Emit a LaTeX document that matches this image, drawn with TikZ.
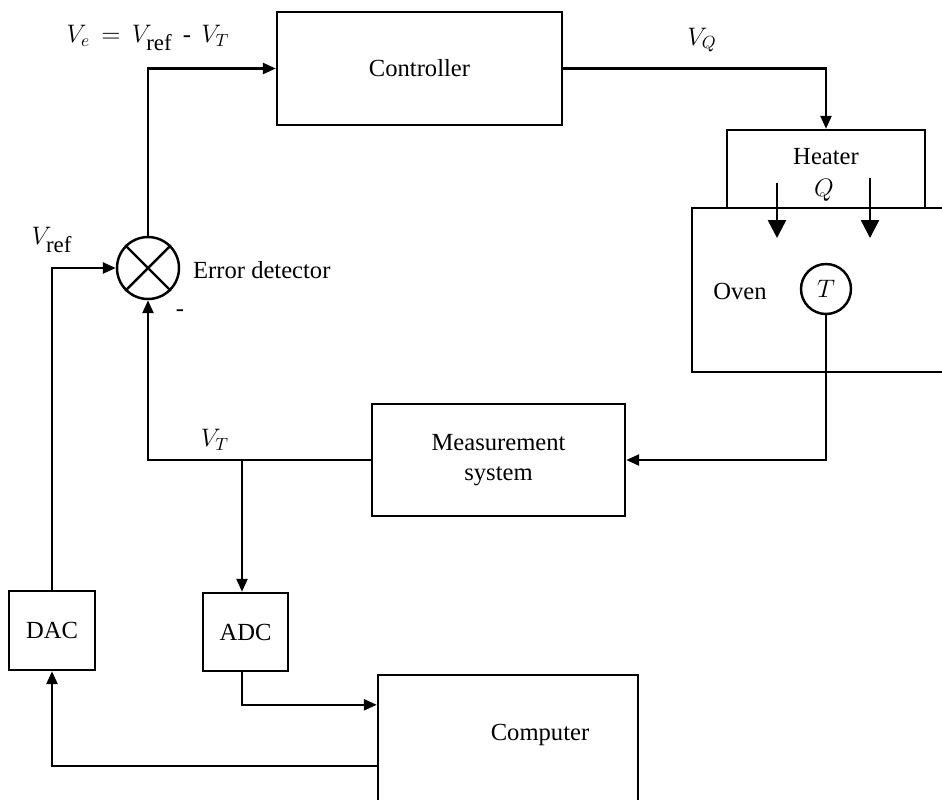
\documentclass[tikz,border=0pt]{standalone}
\usepackage{fontspec}
\setmainfont{Liberation Serif}
\usetikzlibrary{arrows.meta,positioning,calc}
\tikzset{blk/.style={draw,line width=1.4pt,inner sep=0pt},
 sig/.style={-{Triangle[length=2.6mm,width=2.2mm]},line width=1.4pt},
 heat/.style={-{Triangle[length=3.6mm,width=3.6mm]},line width=1.4pt},
 wire/.style={line width=1.4pt},
 txt/.style={align=center,font=\fontsize{14}{17}\selectfont}}
\newcommand{\subref}{\mbox{\fontsize{13}{13}\selectfont ref}}

\begin{document}
\begin{tikzpicture}[x=0.02cm,y=-0.02cm,every node/.style={font=\fontsize{14}{17}\selectfont}]
\clip (0,0) rectangle (942,799);
% blocks
\node[blk,minimum width=5.7cm,minimum height=2.26cm] (ctrl) at (419.5,68.5) {Controller};
\node[blk,minimum width=3.96cm,minimum height=1.56cm] (heater) at (826,169) {};
\node[blk,minimum width=5.96cm,minimum height=3.28cm] (oven) at (841,290) {};
\node[blk,circle,minimum size=1cm] (tsens) at (826,289) {$T$};
\node[blk,circle,minimum size=1.24cm] (sum) at (148,268) {};
\draw[wire] (sum.north west)--(sum.south east) (sum.north east)--(sum.south west);
\node[blk,txt,minimum width=5.06cm,minimum height=2.24cm] (meas) at (498.5,460) {Measurement\\system};
\node[blk,minimum width=1.7cm,minimum height=1.56cm] (adc) at (245.5,632) {ADC};
\node[blk,minimum width=1.72cm,minimum height=1.58cm] (dac) at (52,630.5) {DAC};
\node[blk,minimum width=5.2cm,minimum height=3.5cm] (comp) at (508,762.5) {};
% labels
\node (velbl) at (148,38) {$V_e\,=\,V_{\subref}$ \,-\, $V_T$};
\node (vqlbl) at (702,40) {$V_Q$};
\node (vreflbl) at (52,240) {$V_{\subref}$};
\node (vtlbl) at (215,440) {$V_T$};
\node (minus) at (180,313) {-};
\node[anchor=west] (errlbl) at (187,270) {Error detector};
\node (ovenlbl) at (740,291) {Oven};
\node (heatlbl) at (826,157) {Heater};
\node (qlbl) at (824,190) {$Q$};
\node (complbl) at (540,735) {Computer};
% heat flow
\coordinate (h1) at (777,183);\coordinate (h2) at (870,178);
\draw[heat] (h1)--++(0,55);
\draw[heat] (h2)--++(0,60);
% signals
\coordinate (vt) at (242,460);
\coordinate (cin) at ($(comp.north west)+(0,31)$);
\coordinate (cout) at ($(comp.north west)+(0,92)$);
\draw[sig] (sum.north) |- (ctrl.west);
\draw[sig] (ctrl.east) -| (heater.north);
\draw[sig] (tsens.south) |- (meas.east);
\draw[sig] (meas.west) -| (sum.south);
\draw[sig] (vt) -- (vt|-adc.north);
\draw[sig] (vt|-adc.south) |- (cin);
\draw[sig] (cout) -| (dac.south);
\draw[sig] (dac.north) |- (sum.west);
\end{tikzpicture}
\end{document}
